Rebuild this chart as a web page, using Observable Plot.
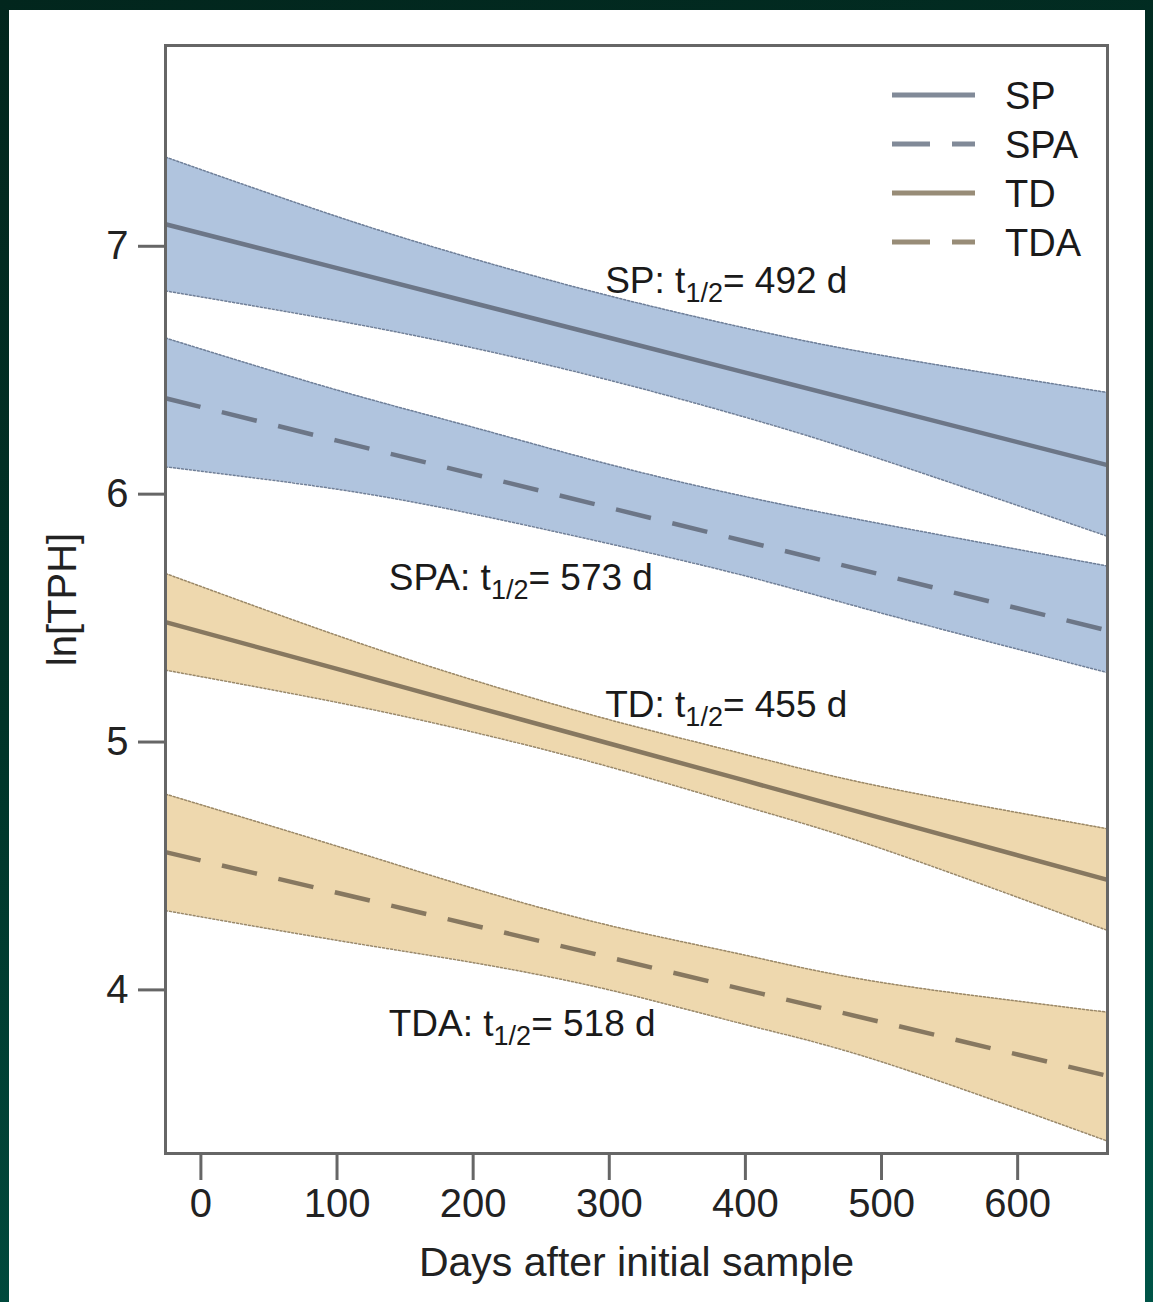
<!DOCTYPE html>
<html>
<head>
<meta charset="utf-8">
<script src="https://cdn.jsdelivr.net/npm/d3@7"></script>
<script src="https://cdn.jsdelivr.net/npm/@observablehq/plot@0.6"></script>
<style>
html, body { margin: 0; padding: 0; }
body {
  width: 1153px; height: 1302px; position: relative; overflow: hidden;
  background: linear-gradient(165deg, #02261d 0%, #013428 45%, #005447 100%);
  font-family: "Liberation Sans", Arial, sans-serif;
}
#panel { position: absolute; left: 9px; top: 10px; width: 1136px; height: 1292px; background: #fff; }
#chart { position: absolute; left: 0; top: 0; }
#legend { position: absolute; left: 880px; top: 68px; }
</style>
</head>
<body>
<div id="panel"></div>
<div id="chart"></div>
<div id="legend"></div>
<script>
// ---- data ----
const days = [-26, 100, 200, 300, 400, 500, 666];

const spFit  = [7.089, 6.912, 6.771, 6.631, 6.490, 6.350, 6.117];
const spHi   = [7.36, 7.12, 6.95, 6.80, 6.67, 6.56, 6.41];
const spLo   = [6.82, 6.70, 6.59, 6.46, 6.31, 6.14, 5.83];

const spaFit = [6.387, 6.216, 6.081, 5.945, 5.810, 5.675, 5.450];
const spaHi  = [6.63, 6.42, 6.27, 6.12, 5.99, 5.88, 5.71];
const spaLo  = [6.11, 6.02, 5.92, 5.80, 5.67, 5.52, 5.28];

const tdFit  = [5.484, 5.295, 5.144, 4.994, 4.844, 4.693, 4.444];
const tdHi   = [5.68, 5.43, 5.25, 5.09, 4.95, 4.82, 4.65];
const tdLo   = [5.29, 5.16, 5.04, 4.90, 4.74, 4.57, 4.24];

const tdaFit = [4.556, 4.392, 4.261, 4.131, 4.000, 3.870, 3.653];
const tdaHi  = [4.79, 4.58, 4.41, 4.26, 4.14, 4.03, 3.91];
const tdaLo  = [4.32, 4.20, 4.11, 4.00, 3.86, 3.71, 3.39];

const seriesNames = ["SP", "SPA", "TD", "TDA"];
const halfLives   = [492, 573, 455, 518];
const labelDay    = [297, 138, 297, 138];
const labelLn     = [6.86, 5.66, 5.15, 3.86];

const xTicks = [0, 100, 200, 300, 400, 500, 600];
const yTicks = [4, 5, 6, 7];

// ---- styles ----
const bandFill  = {SP: "#b0c4de", SPA: "#b0c4de", TD: "#eed8ae", TDA: "#eed8ae"};
const edgeColor = {SP: "#6f7f98", SPA: "#6f7f98", TD: "#9a8868", TDA: "#9a8868"};
const lineColor = {SP: "#6c7687", SPA: "#6c7687", TD: "#877860", TDA: "#877860"};
const dashed    = {SP: false, SPA: true, TD: false, TDA: true};

const fits = {SP: spFit, SPA: spaFit, TD: tdFit, TDA: tdaFit};
const his  = {SP: spHi, SPA: spaHi, TD: tdHi, TDA: tdaHi};
const los  = {SP: spLo, SPA: spaLo, TD: tdLo, TDA: tdaLo};

const rows = {};
for (const s of seriesNames) {
  rows[s] = days.map((d, i) => ({day: d, fit: fits[s][i], hi: his[s][i], lo: los[s][i]}));
}
const labels = seriesNames.map((s, i) => ({
  day: labelDay[i], ln: labelLn[i], text: `${s}: t1/2= ${halfLives[i]} d`
}));

const marks = [];
for (const s of seriesNames) {
  marks.push(Plot.areaY(rows[s], {x: "day", y1: "lo", y2: "hi", fill: bandFill[s], curve: "natural"}));
}
for (const s of seriesNames) {
  for (const k of ["lo", "hi"]) {
    marks.push(Plot.lineY(rows[s], {x: "day", y: k, stroke: edgeColor[s], strokeWidth: 1.5,
      strokeDasharray: "2,2", curve: "natural"}));
  }
}
for (const s of seriesNames) {
  marks.push(Plot.lineY(rows[s], {x: "day", y: "fit", stroke: lineColor[s], strokeWidth: 4.5,
    strokeDasharray: dashed[s] ? "36,22" : null, strokeLinecap: "butt"}));
}
marks.push(Plot.text(labels, {x: "day", y: "ln", text: "text", textAnchor: "start",
  lineAnchor: "middle", fontSize: 37, fill: "#1a1a1a"}));
marks.push(Plot.frame({stroke: "#666", strokeWidth: 3}));
marks.push(Plot.axisX({ticks: xTicks, tickSize: 27, tickPadding: 8, fontSize: 40, stroke: "#666",
  strokeWidth: 3, color: "#222", label: "Days after initial sample", labelAnchor: "center",
  labelOffset: 122, labelArrow: "none"}));
marks.push(Plot.axisY({ticks: yTicks, tickSize: 27, tickPadding: 10, fontSize: 40, stroke: "#666",
  strokeWidth: 3, color: "#222", tickFormat: "d", label: "ln[TPH]", labelAnchor: "center",
  labelOffset: 118, labelArrow: "none"}));

const chart = Plot.plot({
  width: 1153, height: 1302,
  marginLeft: 165, marginRight: 46, marginTop: 45, marginBottom: 149,
  x: {domain: [-26, 666]},
  y: {domain: [3.34, 7.81]},
  style: {background: "transparent", fontFamily: "Liberation Sans, Arial, sans-serif", color: "#222"},
  marks
});
document.getElementById("chart").appendChild(chart);

// axis title slightly larger
d3.select(chart).selectAll("text").each(function() {
  if (this.textContent === "Days after initial sample") this.setAttribute("font-size", 41);
});

// subscripts for t1/2
d3.select(chart).selectAll("text").each(function() {
  if (this.querySelector("tspan")) return;
  const t = this.textContent;
  const m = t.match(/^(.*: t)(1\/2)(=.*)$/);
  if (!m) return;
  const el = d3.select(this);
  el.text("");
  el.append("tspan").text(m[1]);
  el.append("tspan").attr("font-size", 27).attr("dy", 9).text(m[2]);
  el.append("tspan").attr("dy", -9).text(m[3]);
});

// legend
const lg = d3.select("#legend").append("svg").attr("width", 240).attr("height", 210)
  .style("font-family", "Liberation Sans, Arial, sans-serif");
seriesNames.forEach((s, i) => {
  const y = 27 + i * 49;
  lg.append("line").attr("x1", 12).attr("x2", 95).attr("y1", y).attr("y2", y)
    .attr("stroke", lineColor[s]).attr("stroke-width", 5).attr("opacity", 0.85)
    .attr("stroke-dasharray", dashed[s] ? "38,22" : null);
  lg.append("text").attr("x", 125).attr("y", y).attr("dy", "0.36em")
    .attr("font-size", 38).attr("fill", "#1a1a1a").text(s);
});
</script>
</body>
</html>
